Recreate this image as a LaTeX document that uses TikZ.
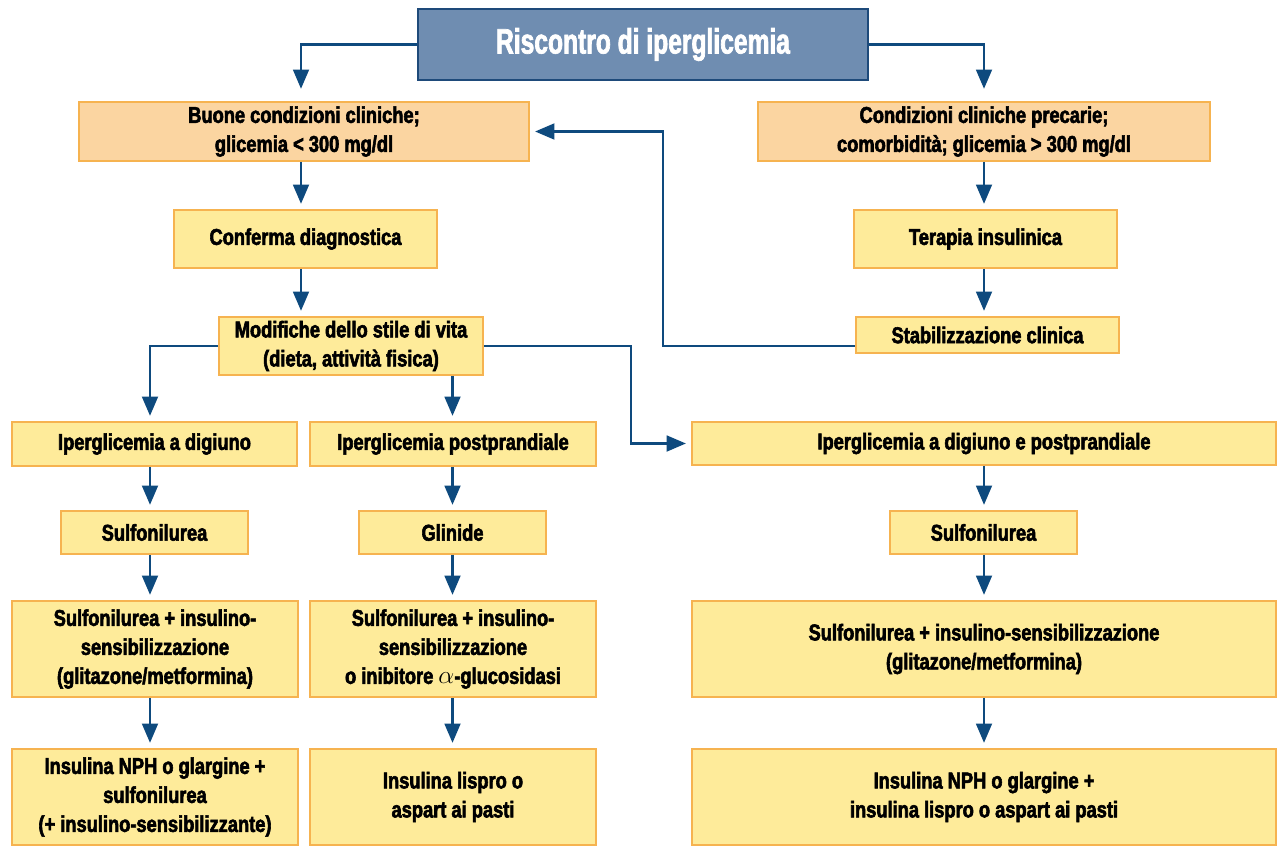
\documentclass[tikz,border=0pt]{standalone}
\usepackage{fontspec}
\setmainfont{Liberation Sans}
\newfontfamily\boxfont{Liberation Sans}[FakeStretch=0.80,FakeBold=2.5]
\newfontfamily\ttlfont{Liberation Sans}[FakeStretch=0.70,FakeBold=2.0]
\usetikzlibrary{arrows.meta,calc}
\definecolor{ttlfill}{HTML}{6F8DB1}
\definecolor{ttlline}{HTML}{1E4A7A}
\definecolor{peach}{HTML}{FBD5A1}
\definecolor{yel}{HTML}{FEEB9A}
\definecolor{orng}{HTML}{F6B350}
\definecolor{arrc}{HTML}{0E4A7E}
\tikzset{
  box/.style={draw=orng, line width=1pt, fill=yel, align=center, inner sep=2pt,
    font=\boxfont\bfseries\fontsize{13}{16.5}\selectfont, text=black},
  pbox/.style={box, fill=peach},
  ttlbox/.style={draw=ttlline, line width=1pt, fill=ttlfill, align=center,
    font=\ttlfont\bfseries\fontsize{20}{24}\selectfont, text=white},
  arr/.style={draw=arrc, line width=1.4pt, -{Triangle[length=11pt,width=9pt]}, shorten >=3pt},
  arrt/.style={arr, shorten >=7pt},
}
\begin{document}
\begin{tikzpicture}[x=0.02cm,y=-0.02cm]
\useasboundingbox (0,0) rectangle (1277,858);
\fill[white] (0,0) rectangle (1277,858);
% nodes
\node[ttlbox, minimum width=9cm, minimum height=1.42cm] (title) at (643,44.5) {Riscontro di iperglicemia};
\node[pbox, minimum width=9cm, minimum height=1.18cm] (buone) at (304,131.5) {Buone condizioni cliniche;\\ glicemia < 300 mg/dl};
\node[pbox, minimum width=9.04cm, minimum height=1.18cm] (prec) at (984,131.5) {Condizioni cliniche precarie;\\ comorbidità; glicemia > 300 mg/dl};
\node[box, minimum width=5.26cm, minimum height=1.16cm] (conf) at (305.5,239) {Conferma diagnostica};
\node[box, minimum width=5.26cm, minimum height=1.16cm] (ter) at (985.5,239) {Terapia insulinica};
\node[box, minimum width=5.28cm, minimum height=1.16cm] (mod) at (351,346) {Modifiche dello stile di vita\\ (dieta, attività fisica)};
\node[box, minimum width=5.26cm, minimum height=0.72cm] (stab) at (987.5,335) {Stabilizzazione clinica};
\node[box, minimum width=5.7cm, minimum height=0.88cm] (dig) at (154.5,444) {Iperglicemia a digiuno};
\node[box, minimum width=5.72cm, minimum height=0.88cm] (post) at (453,444) {Iperglicemia postprandiale};
\node[box, minimum width=11.68cm, minimum height=0.86cm] (dp) at (984,443.5) {Iperglicemia a digiuno e postprandiale};
\node[box, minimum width=3.74cm, minimum height=0.86cm] (sulfL) at (154.5,532.5) {Sulfonilurea};
\node[box, minimum width=3.74cm, minimum height=0.86cm] (glin) at (452.5,532.5) {Glinide};
\node[box, minimum width=3.74cm, minimum height=0.86cm] (sulfR) at (983.5,532.5) {Sulfonilurea};
\node[box, minimum width=5.72cm, minimum height=1.92cm] (siL) at (155,649) {Sulfonilurea + insulino-\\ sensibilizzazione\\ (glitazone/metformina)};
\node[box, minimum width=5.72cm, minimum height=1.92cm] (siM) at (453,649) {Sulfonilurea + insulino-\\ sensibilizzazione\\ o inibitore {\Large$\alpha$}-glucosidasi};
\node[box, minimum width=11.68cm, minimum height=1.92cm] (siR) at (984,649) {Sulfonilurea + insulino-sensibilizzazione\\ (glitazone/metformina)};
\node[box, minimum width=5.72cm, minimum height=1.92cm] (inL) at (155,797) {Insulina NPH o glargine +\\ sulfonilurea\\ (+ insulino-sensibilizzante)};
\node[box, minimum width=5.72cm, minimum height=1.92cm] (inM) at (453,797) {Insulina lispro o\\ aspart ai pasti};
\node[box, minimum width=11.68cm, minimum height=1.92cm] (inR) at (984,797) {Insulina NPH o glargine +\\ insulina lispro o aspart ai pasti};
% helper coordinates
\coordinate (cl) at (150,0);
\coordinate (ct) at (301,0);
\coordinate (cfb) at (663,131.5);
\coordinate (cj) at (631,346);
% connectors
\draw[arrt] (title.west) -| (buone.north -| ct);
\draw[arrt] (title.east) -| (prec.north);
\draw[arr] (buone.south -| ct) -- (conf.north -| ct);
\draw[arr] (conf.south -| ct) -- (mod.north -| ct);
\draw[arr] (prec.south) -- (ter.north -| prec.south);
\draw[arr] (ter.south -| prec.south) -- (stab.north -| prec.south);
\draw[arr] (stab.west |- mod.east) -| (cfb) -- (buone.east);
\draw[arr] (mod.west) -| (dig.north -| cl);
\draw[arr] (mod.south -| glin.north) -- (post.north -| glin.north);
\draw[arr] (mod.east) -- (cj) |- (dp.west);
\draw[arr] (dig.south -| cl) -- (sulfL.north -| cl);
\draw[arr] (sulfL.south -| cl) -- (siL.north -| cl);
\draw[arr] (siL.south -| cl) -- (inL.north -| cl);
\draw[arr] (post.south -| glin.north) -- (glin.north);
\draw[arr] (glin.south) -- (siM.north -| glin.south);
\draw[arr] (siM.south -| glin.south) -- (inM.north -| glin.south);
\draw[arr] (dp.south -| prec.south) -- (sulfR.north -| prec.south);
\draw[arr] (sulfR.south -| prec.south) -- (siR.north -| prec.south);
\draw[arr] (siR.south -| prec.south) -- (inR.north -| prec.south);
\end{tikzpicture}
\end{document}
